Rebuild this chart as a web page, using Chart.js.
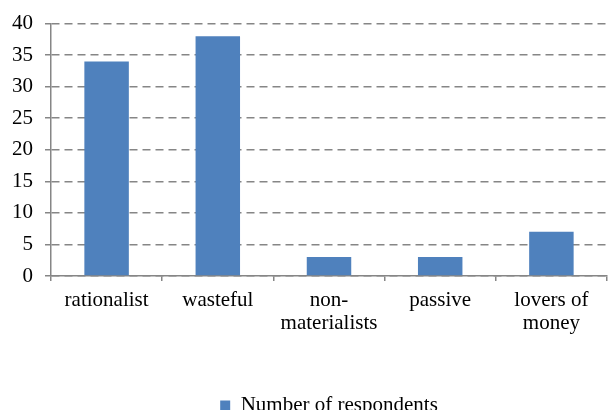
<!DOCTYPE html>
<html>
<head>
<meta charset="utf-8">
<script src="https://cdn.jsdelivr.net/npm/chart.js@4/dist/chart.umd.min.js"></script>
<style>
  html, body { margin: 0; padding: 0; background: #fff; overflow: hidden; }
  #wrap { width: 608px; height: 426px; }
</style>
</head>
<body>
<div id="wrap"><canvas id="chart" width="608" height="426"></canvas></div>
<script>
// ── Data ────────────────────────────────────────────────────────────────
var categories = ['rationalist', 'wasteful', ['non-', 'materialists'], 'passive', ['lovers of', 'money']];
var respondents = [34, 38, 3, 3, 7];
var seriesLabel = 'Number of respondents';
var yMin = 0, yMax = 40, yStep = 5;

var font = { family: "'Liberation Serif', 'Times New Roman', serif", size: 21, lineHeight: 1.1 };
var axisGrey = '#868686';

new Chart(document.getElementById('chart'), {
    type: 'bar',
    data: {
        labels: categories,
        datasets: [{
            label: seriesLabel,
            data: respondents,
            backgroundColor: '#4F81BD',
            borderWidth: 0,
            barPercentage: 0.4,
            categoryPercentage: 1.0
        }]
    },
    options: {
        responsive: false,
        animation: false,
        layout: { padding: { top: 22, right: 1, bottom: 0, left: 0 } },
        plugins: {
            legend: {
                position: 'bottom',
                fullSize: false,
                labels: {
                    color: '#000',
                    font: font,
                    boxWidth: 10,
                    boxHeight: 10,
                    padding: 4
                }
            },
            tooltip: { enabled: false }
        },
        scales: {
            x: {
                afterFit: function (scale) { scale.height = 115; },
                border: { color: axisGrey, width: 1.5 },
                grid: { drawOnChartArea: false, drawTicks: true, tickLength: 5, color: axisGrey, lineWidth: 1.5 },
                ticks: { color: '#000', font: font, padding: 8, maxRotation: 0, autoSkip: false }
            },
            y: {
                min: yMin,
                max: yMax,
                afterFit: function (scale) { scale.width = 51; },
                // in v4 border.dash is what dashes the grid lines
                border: { color: axisGrey, width: 1.5, dash: [8, 5] },
                grid: { color: axisGrey, lineWidth: 1.5, tickLength: 6, tickBorderDash: [] },
                ticks: { stepSize: yStep, color: '#000', font: font, padding: 12 }
            }
        }
    }
});
</script>
</body>
</html>
